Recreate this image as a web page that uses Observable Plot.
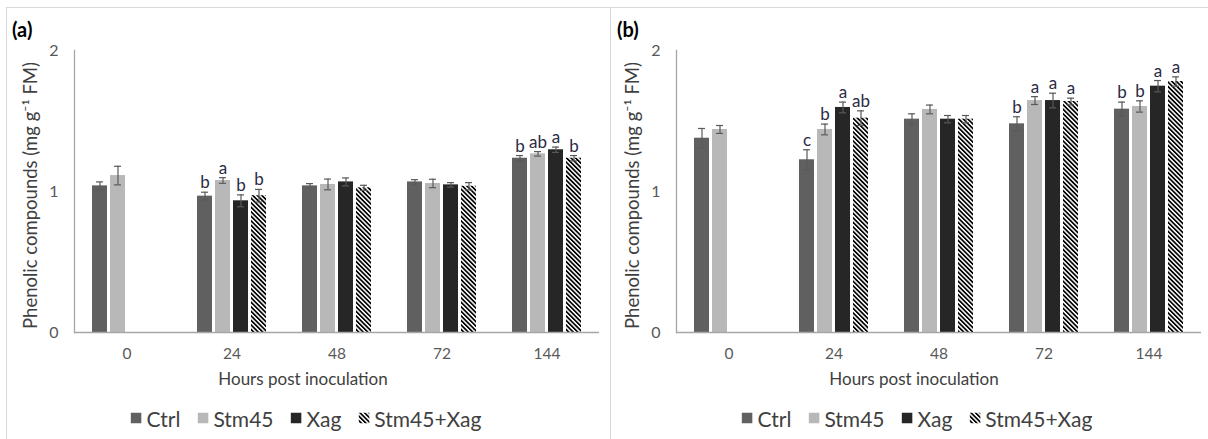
<!DOCTYPE html>
<html><head><meta charset="utf-8">
<script src="https://cdn.jsdelivr.net/npm/d3@7"></script>
<script src="https://cdn.jsdelivr.net/npm/@observablehq/plot@0.6"></script>
<style>
html,body{margin:0;padding:0;background:#fff;}
body{width:1208px;height:439px;overflow:hidden;position:relative;font-family:Lato,"Open Sans",sans-serif;}
.line{position:absolute;background:#d9d9d9;}
.panel{position:absolute;}
.ptitle{position:absolute;font-weight:bold;font-size:20px;color:#000;transform:translate(0,-50%);}
.xtitle{position:absolute;font-size:17px;color:#404040;transform:translate(-50%,-50%);white-space:nowrap;}
.legend{position:absolute;transform:translate(-50%,-50%);display:flex;align-items:center;white-space:nowrap;font-size:21px;color:#404040;}
.item{display:flex;align-items:center;margin-right:17px;}
.item:last-child{margin-right:0}
.item svg{margin-right:5px;}
</style></head><body>
<div class="line" style="left:6px;top:7px;width:1202px;height:1px"></div>
<div class="line" style="left:6px;top:7px;width:1px;height:432px"></div>
<div class="line" style="left:610px;top:7px;width:1px;height:432px"></div>
<div class="ptitle" style="left:12px;top:29px">(a)</div>
<div class="ptitle" style="left:617px;top:29px">(b)</div>
<div id="pa" class="panel" style="left:6px;top:7px"></div>
<div id="pb" class="panel" style="left:611px;top:7px"></div>
<div class="xtitle" style="left:303px;top:378px">Hours post inoculation</div>
<div class="xtitle" style="left:914px;top:378px">Hours post inoculation</div>
<div id="la" class="legend" style="left:306px;top:418px"></div>
<div id="lb" class="legend" style="left:917px;top:418px"></div>
<script>
const hours = ["0", "24", "48", "72", "144"];
const treatments = ["Ctrl", "Stm45", "Xag", "Stm45+Xag"];
const yTicks = [0, 1, 2];
const yTitle = "Phenolic compounds (mg g\u207B\u00B9 FM)";

// Panel (a): means, standard errors, letters (per treatment, across hours)
const meansA_Ctrl = [1.04, 0.967, 1.04, 1.068, 1.236];
const meansA_Stm45 = [1.113, 1.078, 1.05, 1.057, 1.267];
const meansA_Xag = [null, 0.934, 1.068, 1.047, 1.296];
const meansA_StmXag = [null, 0.97, 1.026, 1.037, 1.236];
const errA_Ctrl = [0.028, 0.028, 0.016, 0.016, 0.019];
const errA_Stm45 = [0.066, 0.02, 0.038, 0.03, 0.016];
const errA_Xag = [null, 0.042, 0.028, 0.016, 0.019];
const errA_StmXag = [null, 0.045, 0.018, 0.026, 0.019];
const lettersA_Ctrl = ["", "b", "", "", "b"];
const lettersA_Stm45 = ["", "a", "", "", "ab"];
const lettersA_Xag = ["", "b", "", "", "a"];
const lettersA_StmXag = ["", "b", "", "", "b"];

// Panel (b)
const meansB_Ctrl = [1.378, 1.225, 1.513, 1.48, 1.584];
const meansB_Stm45 = [1.44, 1.44, 1.582, 1.645, 1.603];
const meansB_Xag = [null, 1.596, 1.513, 1.645, 1.747];
const meansB_StmXag = [null, 1.52, 1.513, 1.638, 1.78];
const errB_Ctrl = [0.069, 0.071, 0.038, 0.05, 0.05];
const errB_Stm45 = [0.028, 0.038, 0.031, 0.028, 0.04];
const errB_Xag = [null, 0.038, 0.026, 0.052, 0.04];
const errB_StmXag = [null, 0.052, 0.026, 0.024, 0.033];
const lettersB_Ctrl = ["", "c", "", "b", "b"];
const lettersB_Stm45 = ["", "b", "", "a", "b"];
const lettersB_Xag = ["", "a", "", "a", "a"];
const lettersB_StmXag = ["", "ab", "", "a", "a"];

const solidColors = ["#606060", "#b8b8b8", "#262626"];

function hatchDef(id) {
  return `<pattern id="${id}" patternUnits="userSpaceOnUse" width="3.2" height="3.2" patternTransform="rotate(-45)">
    <rect width="3.2" height="3.2" fill="#fff"/><rect width="1.7" height="3.2" fill="#000"/></pattern>`;
}

function buildRows(means, errs, letters) {
  const rows = [];
  treatments.forEach((t, i) => hours.forEach((h, j) => {
    const m = means[i][j];
    if (m == null) return;
    rows.push({hour: h, treatment: t, mean: m, err: errs[i][j], letter: letters[i][j]});
  }));
  return rows;
}

function makePanel(el, rows, cfg) {
  const pat = cfg.pat;
  const svg = Plot.plot({
    width: cfg.width, height: 365,
    marginLeft: cfg.ml, marginRight: cfg.mr, marginTop: 43, marginBottom: 40,
    style: {fontFamily: "Lato, sans-serif", fontSize: "16px", color: "#595959", background: "transparent", overflow: "visible"},
    fx: {domain: hours, padding: 0, label: null},
    x: {domain: treatments, paddingInner: 0.18, paddingOuter: 0.88, axis: null},
    y: {domain: [0, 2]},
    color: {domain: treatments, range: [...solidColors, `url(#${pat})`]},
    marks: [
      Plot.axisY({ticks: yTicks, tickFormat: d3.format("d"), tickSize: 0, tickPadding: 16, fontSize: 16, fill: "#595959", label: null}),
      Plot.axisFx({anchor: "bottom", tickSize: 0, tickPadding: 15, fontSize: 15.5, fill: "#595959", label: null}),
      Plot.frame({anchor: "left", facetAnchor: "left", stroke: "#a6a6a6", strokeWidth: 1.3}),
      Plot.text([yTitle], {frameAnchor: "left", facetAnchor: "left", textAnchor: "middle", rotate: -90, dx: -43, dy: 4, fontSize: 18.5, fill: "#404040"}),
      Plot.barY(rows, {fx: "hour", x: "treatment", y: "mean", fill: "treatment"}),
      Plot.ruleY([0], {stroke: "#a6a6a6", strokeWidth: 1.5}),
      Plot.ruleX(rows, {fx: "hour", x: "treatment", y1: d => d.mean - d.err, y2: d => d.mean + d.err, stroke: "#595959", strokeWidth: 1.2}),
      Plot.tickY(rows, {fx: "hour", x: "treatment", y: d => d.mean + d.err, stroke: "#595959", strokeWidth: 1.2, insetLeft: 4, insetRight: 4}),
      Plot.tickY(rows, {fx: "hour", x: "treatment", y: d => d.mean - d.err, stroke: "#595959", strokeWidth: 1.2, insetLeft: 4, insetRight: 4}),
      Plot.text(rows.filter(d => d.letter), {fx: "hour", x: "treatment", y: d => d.mean + d.err, text: "letter", lineAnchor: "bottom", dy: -4, fontSize: 17, fill: "#2a2a44"})
    ]
  });
  d3.select(svg).insert("defs", ":first-child").html(hatchDef(pat));
  el.appendChild(svg);
}

function makeLegend(el, pat) {
  treatments.forEach((t, i) => {
    const item = document.createElement("div");
    item.className = "item";
    const fill = i < 3 ? solidColors[i] : `url(#${pat})`;
    item.innerHTML = `<svg width="11" height="11"><rect width="11" height="11" fill="${fill}"/></svg><span>${t}</span>`;
    el.appendChild(item);
  });
}

const rowsA = buildRows(
  [meansA_Ctrl, meansA_Stm45, meansA_Xag, meansA_StmXag],
  [errA_Ctrl, errA_Stm45, errA_Xag, errA_StmXag],
  [lettersA_Ctrl, lettersA_Stm45, lettersA_Xag, lettersA_StmXag]);
const rowsB = buildRows(
  [meansB_Ctrl, meansB_Stm45, meansB_Xag, meansB_StmXag],
  [errB_Ctrl, errB_Stm45, errB_Xag, errB_StmXag],
  [lettersB_Ctrl, lettersB_Stm45, lettersB_Xag, lettersB_StmXag]);

makePanel(document.getElementById("pa"), rowsA, {width: 604, ml: 66, mr: 9, pat: "hatchA"});
makePanel(document.getElementById("pb"), rowsB, {width: 597, ml: 63, mr: 6, pat: "hatchB"});
makeLegend(document.getElementById("la"), "hatchA");
makeLegend(document.getElementById("lb"), "hatchB");
</script>
</body></html>
